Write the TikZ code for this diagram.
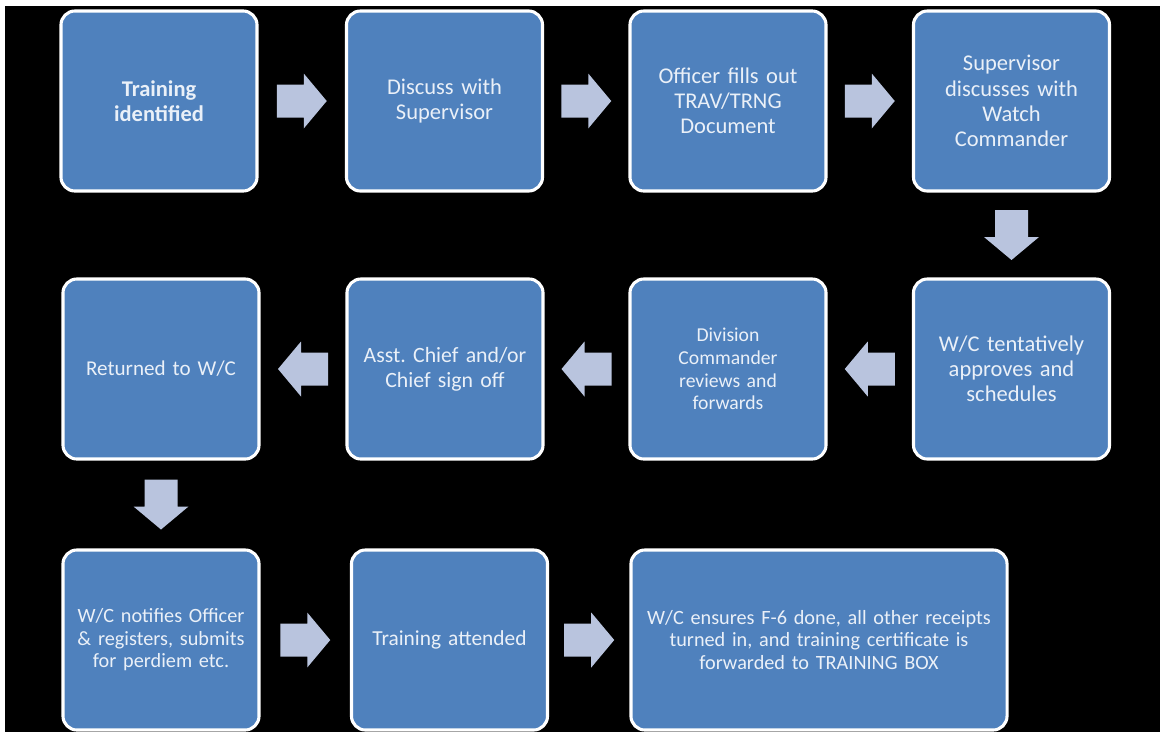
\documentclass[tikz,border=0pt]{standalone}
\usepackage{fontspec}
\setmainfont{Carlito}
\usetikzlibrary{calc}
\definecolor{boxblue}{HTML}{4F81BD}
\definecolor{arrowblue}{HTML}{B9C4DE}
\definecolor{boxtext}{HTML}{EAF0F8}
\frenchspacing
\begin{document}
\begin{tikzpicture}[x=0.025cm,y=-0.025cm,
  stepbox/.style={draw=white, line width=2.2pt, fill=boxblue, rounded corners=0.35cm,
    minimum width=4.9cm, minimum height=4.5cm, align=center, text=boxtext,
    text width=4.8cm, inner sep=0pt, font=\fontsize{16}{17.9}\selectfont},
  smalltext/.style={font=\fontsize{14.4}{16}\selectfont},
  rarr/.pic={\fill[arrowblue] (-25,-16.5) -- (2,-16.5) -- (2,-27.5) -- (25,0)
    -- (2,27.5) -- (2,16.5) -- (-25,16.5) -- cycle;}]
\useasboundingbox (0,0) rectangle (1160,732);
\fill[white] (0,0) rectangle (1160,732);
\fill[black] (5,6) rectangle (1160,732);
% first row
\node[stepbox] (ident) at (159,101) {\textbf{Training}\\\textbf{identified}};
\node[stepbox] (discuss) at (444.5,101) {Discuss with\\Supervisor};
\node[stepbox] (fills) at (728,101) {Officer fills out\\TRAV/TRNG\\Document};
\node[stepbox] (watch) at (1011.5,101) {Supervisor\\discusses with\\Watch\\Commander};
% second row
\node[stepbox] (tent) at (1011.5,369) {W/C tentatively\\approves and\\schedules};
\node[stepbox, font=\fontsize{14}{16.2}\selectfont] (divcmd) at (728,369) {Division\\Commander\\reviews and\\forwards};
\node[stepbox, font=\fontsize{15.5}{17.5}\selectfont] (signoff) at (445,369) {Asst. Chief and/or\\Chief sign off};
\node[stepbox, font=\fontsize{15}{17.5}\selectfont] (returned) at (161,369) {Returned to W/C};
% third row
\node[stepbox, smalltext] (notify) at (161,640) {W/C notifies Officer\\\& registers, submits\\for perdiem etc.};
\node[stepbox, font=\fontsize{15.2}{16}\selectfont] (attend) at (449.5,640) {Training attended};
\node[stepbox, smalltext, minimum width=9.4cm, text width=9cm] (ensure) at (819,640)
  {W/C ensures F-6 done, all other receipts\\turned in, and training certificate is\\forwarded to TRAINING BOX};
% block arrows
\pic at ($(ident.east)!0.5!(discuss.west)$) {rarr};
\pic at ($(discuss.east)!0.5!(fills.west)$) {rarr};
\pic at ($(fills.east)!0.5!(watch.west)$) {rarr};
\pic[rotate=-90] at ($(watch.south)!0.5!(tent.north)$) {rarr};
\pic[rotate=180] at ($(tent.west)!0.5!(divcmd.east)$) {rarr};
\pic[rotate=180] at ($(divcmd.west)!0.5!(signoff.east)$) {rarr};
\pic[rotate=180] at ($(signoff.west)!0.5!(returned.east)$) {rarr};
\pic[rotate=-90] at ($(returned.south)!0.5!(notify.north)$) {rarr};
\pic at ($(notify.east)!0.5!(attend.west)$) {rarr};
\pic at ($(attend.east)!0.5!(ensure.west)$) {rarr};
\end{tikzpicture}
\end{document}
